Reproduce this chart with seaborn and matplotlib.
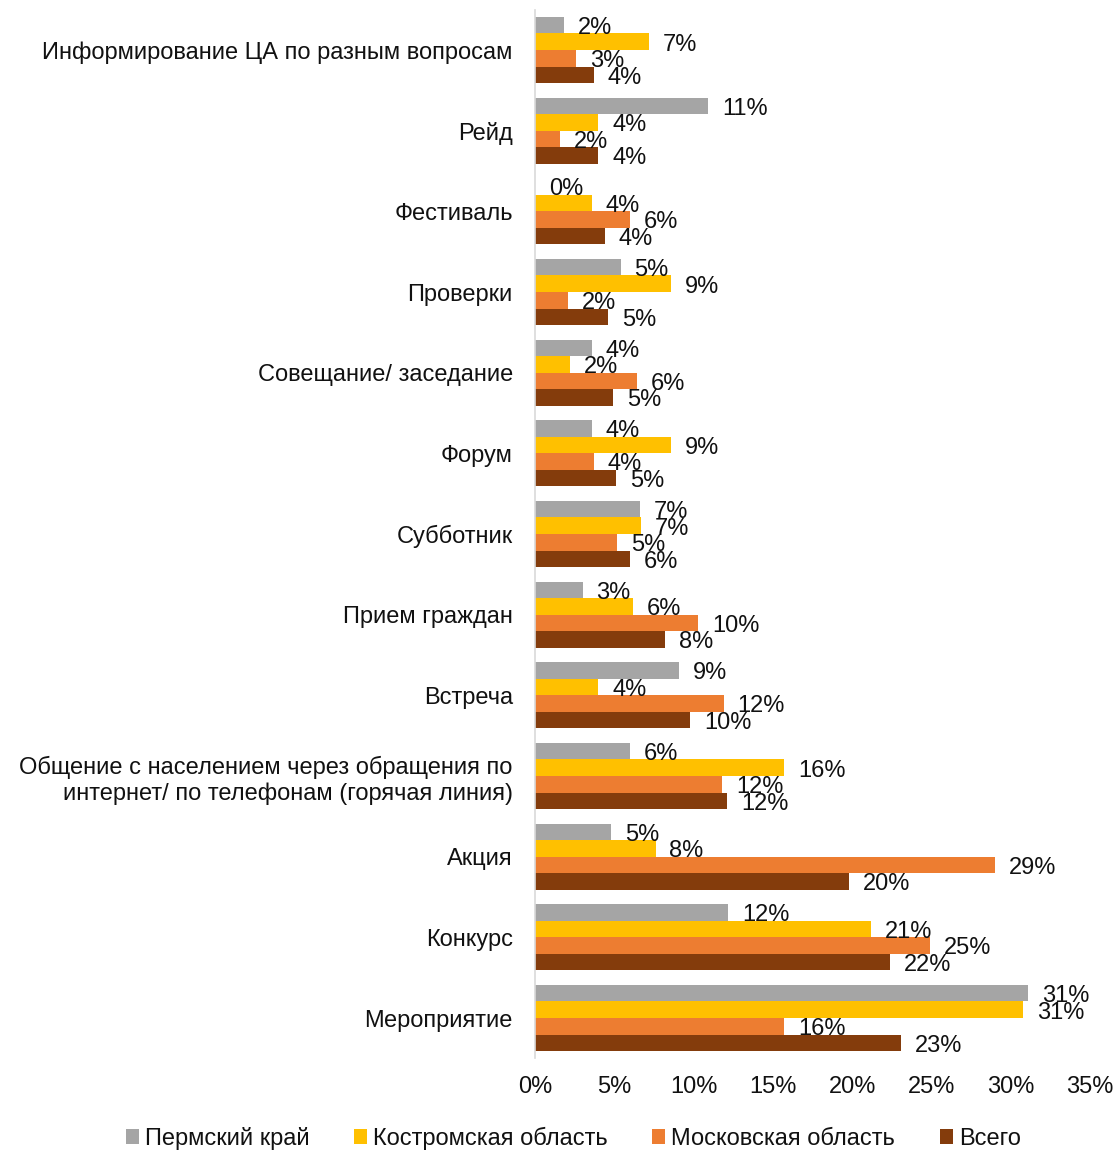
import matplotlib
matplotlib.use("Agg")
import matplotlib.pyplot as plt
import seaborn as sns
import pandas as pd

categories = [
    "Информирование ЦА по разным вопросам",
    "Рейд",
    "Фестиваль",
    "Проверки",
    "Совещание/ заседание",
    "Форум",
    "Субботник",
    "Прием граждан",
    "Встреча",
    "Общение с населением через обращения по\nинтернет/ по телефонам (горячая линия)",
    "Акция",
    "Конкурс",
    "Мероприятие",
]
series = ["Пермский край", "Костромская область", "Московская область", "Всего"]

perm = [1.8, 10.9, 0.0, 5.4, 3.6, 3.6, 6.6, 3.0, 9.1, 6.0, 4.8, 12.2, 31.1]
kostroma = [7.2, 4.0, 3.6, 8.6, 2.2, 8.6, 6.7, 6.2, 4.0, 15.7, 7.6, 21.2, 30.8]
moscow = [2.6, 1.6, 6.0, 2.1, 6.4, 3.7, 5.2, 10.3, 11.9, 11.8, 29.0, 24.9, 15.7]
total = [3.7, 4.0, 4.4, 4.6, 4.9, 5.1, 6.0, 8.2, 9.8, 12.1, 19.8, 22.4, 23.1]

colors = ["#A5A5A5", "#FFC000", "#ED7D31", "#843C0C"]
x_ticks = [0, 5, 10, 15, 20, 25, 30, 35]

rows = []
for name, vals in zip(series, [perm, kostroma, moscow, total]):
    for cat, v in zip(categories, vals):
        rows.append({"cat": cat, "series": name, "value": v})
df = pd.DataFrame(rows)

sns.set_theme(style="white")
plt.rcParams["font.family"] = ["Liberation Sans", "DejaVu Sans"]
text_color = "#111111"
fs = 17

fig = plt.figure(figsize=(11.13, 11.51), dpi=100)
ax = fig.add_axes([0.4807, 0.0805, 0.4987, 0.9111])

sns.barplot(
    data=df, y="cat", x="value", hue="series", orient="h",
    order=categories, hue_order=series, palette=colors,
    width=0.82, saturation=1, edgecolor="none", linewidth=0, ax=ax,
)

for cont in ax.containers:
    anns = ax.bar_label(cont, fmt="%.0f%%", padding=10, fontsize=fs, color=text_color)
    for a in anns:
        a.xyann = (10, -2)

ax.set_xlim(0, 35)
ax.set_xticks(x_ticks)
ax.set_xticklabels([f"{t}%" for t in x_ticks], fontsize=fs, color=text_color)
ax.tick_params(axis="y", labelsize=fs, labelcolor=text_color, length=0, pad=16)
ax.tick_params(axis="x", length=0, pad=13)
for lbl in ax.get_yticklabels():
    lbl.set_horizontalalignment("right")
    lbl.set_multialignment("right")
ax.set_xlabel("")
ax.set_ylabel("")
for side in ["top", "right", "bottom"]:
    ax.spines[side].set_visible(False)
ax.spines["left"].set_color("#D9D9D9")
ax.spines["left"].set_linewidth(1.2)
ax.grid(False)

handles, labels = ax.get_legend_handles_labels()
ax.legend_.remove()
fig.legend(
    handles, labels, loc="center", bbox_to_anchor=(0.515, 0.011), ncol=4,
    frameon=False, fontsize=fs, handlelength=0.55, handleheight=0.55,
    handletextpad=0.25, columnspacing=1.9, labelcolor=text_color,
)

fig.savefig("out.png", dpi=100, facecolor="white")
